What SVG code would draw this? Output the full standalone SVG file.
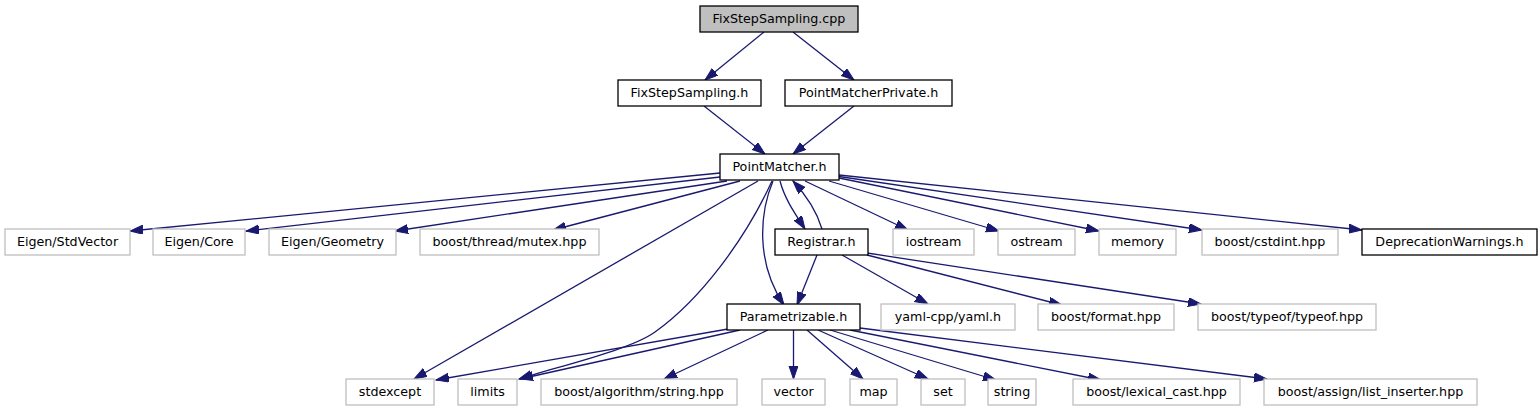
<svg xmlns="http://www.w3.org/2000/svg" width="1538" height="411" viewBox="0 0 1538 411">
<style>
.n rect{fill:#ffffff;stroke:#000000;stroke-width:1.3}
.n.ext rect{stroke:#bfbfbf}
.n.root rect{fill:#bfbfbf}
.n text{font-family:"DejaVu Sans","Liberation Sans",sans-serif;font-size:12.7px;fill:#000000;text-anchor:middle}
#edges path{fill:none;stroke:#191970;stroke-width:1.3;marker-end:url(#ah)}
</style>
<defs>
<marker id="ah" markerUnits="userSpaceOnUse" markerWidth="14" markerHeight="10" refX="13" refY="4.5" orient="auto">
<path d="M0,0 L13,4.5 L0,9 z" fill="#191970" stroke="#191970" stroke-width="1"/>
</marker>
</defs>
<rect width="1538" height="411" fill="#ffffff"/>
<g id="edges">
<path d="M764,32 L705,80"/>
<path d="M793,32 L854,80"/>
<path d="M704,106 L765,154"/>
<path d="M854,106 L793,154"/>
<path d="M720,173 L130,231"/>
<path d="M720,177 L246,231"/>
<path d="M727,181 L395,231"/>
<path d="M740,181 L553,230"/>
<path d="M758,181 L414,379"/>
<path d="M772,181 C745,240 700,300 655,332 C630,350 560,366 519,379"/>
<path d="M773,181 C760,212 755,262 784,305"/>
<path d="M780,181 C785,200 796,215 805,229"/>
<path d="M822,229 C817,212 806,195 793,181"/>
<path d="M805,181 L908,230"/>
<path d="M829,181 L999,231"/>
<path d="M839,178 L1099,231"/>
<path d="M839,176.5 L1202,230"/>
<path d="M839,175 L1362,230"/>
<path d="M817,255 L797,305"/>
<path d="M842,255 L928,304"/>
<path d="M867,255 L1062,305"/>
<path d="M867,253 L1201,304"/>
<path d="M728,329 L436,380"/>
<path d="M740,330 L520,379"/>
<path d="M768,330 L664,379"/>
<path d="M793.5,330 L793.5,379"/>
<path d="M807,330 L863,379"/>
<path d="M818,330 L928,379"/>
<path d="M830,330 L996,380"/>
<path d="M850,330 L1101,380"/>
<path d="M860,328 L1267,379"/>
</g>
<g id="node-cpp" class="n root"><rect x="700" y="6" width="158" height="26"/><text x="779" y="23">FixStepSampling.cpp</text></g>
<g id="node-fssh" class="n"><rect x="618" y="80" width="143" height="26"/><text x="689.5" y="97">FixStepSampling.h</text></g>
<g id="node-pmp" class="n"><rect x="785" y="80" width="167" height="26"/><text x="868.5" y="97">PointMatcherPrivate.h</text></g>
<g id="node-pm" class="n"><rect x="720" y="154" width="119" height="26"/><text x="779.5" y="171">PointMatcher.h</text></g>
<g id="node-stdvector" class="n ext"><rect x="5" y="229" width="125" height="26"/><text x="67.5" y="246">Eigen/StdVector</text></g>
<g id="node-core" class="n ext"><rect x="153" y="229" width="92" height="26"/><text x="199" y="246">Eigen/Core</text></g>
<g id="node-geometry" class="n ext"><rect x="269" y="229" width="127" height="26"/><text x="332.5" y="246">Eigen/Geometry</text></g>
<g id="node-mutex" class="n ext"><rect x="420" y="229" width="179" height="26"/><text x="509.5" y="246">boost/thread/mutex.hpp</text></g>
<g id="node-registrar" class="n"><rect x="775" y="229" width="93" height="26"/><text x="821.5" y="246">Registrar.h</text></g>
<g id="node-iostream" class="n ext"><rect x="893" y="229" width="81" height="26"/><text x="933.5" y="246">iostream</text></g>
<g id="node-ostream" class="n ext"><rect x="998" y="229" width="77" height="26"/><text x="1036.5" y="246">ostream</text></g>
<g id="node-memory" class="n ext"><rect x="1099" y="229" width="77" height="26"/><text x="1137.5" y="246">memory</text></g>
<g id="node-cstdint" class="n ext"><rect x="1202" y="229" width="136" height="26"/><text x="1270" y="246">boost/cstdint.hpp</text></g>
<g id="node-deprecation" class="n"><rect x="1362" y="229" width="175" height="26"/><text x="1449.5" y="246">DeprecationWarnings.h</text></g>
<g id="node-param" class="n"><rect x="727" y="304" width="133" height="26"/><text x="793.5" y="321">Parametrizable.h</text></g>
<g id="node-yaml" class="n ext"><rect x="881" y="304" width="134" height="26"/><text x="948" y="321">yaml-cpp/yaml.h</text></g>
<g id="node-format" class="n ext"><rect x="1038" y="304" width="136" height="26"/><text x="1106" y="321">boost/format.hpp</text></g>
<g id="node-typeof" class="n ext"><rect x="1198" y="304" width="178" height="26"/><text x="1287" y="321">boost/typeof/typeof.hpp</text></g>
<g id="node-stdexcept" class="n ext"><rect x="346" y="379" width="88" height="26"/><text x="390" y="396">stdexcept</text></g>
<g id="node-limits" class="n ext"><rect x="458" y="379" width="59" height="26"/><text x="487.5" y="396">limits</text></g>
<g id="node-algorithm" class="n ext"><rect x="541" y="379" width="196" height="26"/><text x="639" y="396">boost/algorithm/string.hpp</text></g>
<g id="node-vector" class="n ext"><rect x="762" y="379" width="63" height="26"/><text x="793.5" y="396">vector</text></g>
<g id="node-map" class="n ext"><rect x="850" y="379" width="47" height="26"/><text x="873.5" y="396">map</text></g>
<g id="node-set" class="n ext"><rect x="921" y="379" width="44" height="26"/><text x="943" y="396">set</text></g>
<g id="node-string" class="n ext"><rect x="988" y="379" width="48" height="26"/><text x="1012" y="396">string</text></g>
<g id="node-lexical" class="n ext"><rect x="1073" y="379" width="167" height="26"/><text x="1156.5" y="396">boost/lexical_cast.hpp</text></g>
<g id="node-listinserter" class="n ext"><rect x="1264" y="379" width="213" height="26"/><text x="1370.5" y="396">boost/assign/list_inserter.hpp</text></g>
</svg>
